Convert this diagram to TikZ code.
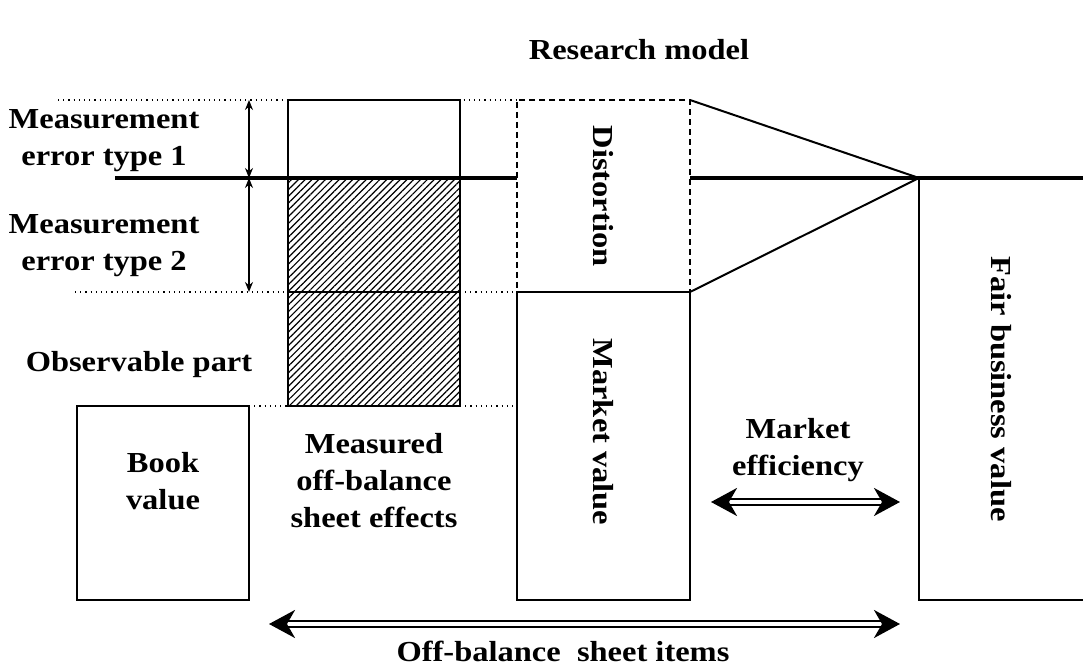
\documentclass[tikz,border=0pt]{standalone}
\usepackage{fontspec}
\setmainfont{Liberation Serif}[FakeStretch=1.12]
\usepackage{tikz}
\usetikzlibrary{arrows.meta,patterns.meta}
\tikzset{
  lbl/.style={font=\bfseries\fontsize{14.5}{18.5}\selectfont,align=center,inner sep=0pt},
  pbox/.style={draw,line width=1pt,anchor=north west,inner sep=0pt,outer sep=0pt},
  hatch/.style={pattern={Lines[angle=45,distance=2.4pt,line width=0.6pt]}},
  dashbox/.style={dash pattern=on 3pt off 2pt},
  dot/.style={dotted,line width=0.6pt},
  axis/.style={line width=1.7pt},
  edge/.style={line width=1pt},
  vr/.style={{Stealth[length=5pt,width=4pt]}-{Stealth[length=5pt,width=4pt]},line width=0.8pt},
  dbl/.style={double,double distance=1.6pt,line width=1.3pt,
    {Stealth[length=13pt,width=14pt,inset=4pt]}-{Stealth[length=13pt,width=14pt,inset=4pt]}}
}
\begin{document}
\begin{tikzpicture}[x=0.5pt,y=-0.5pt]
\useasboundingbox (0,0) rectangle (1083,668);
\node[lbl] (title) at (639,50) {Research model};
% measured effects column
\node[pbox,minimum width=86pt,minimum height=39pt] (mtop) at (288,100) {};
\node[pbox,hatch,minimum width=86pt,minimum height=57pt] (mmid) at (mtop.south west) {};
\node[pbox,hatch,minimum width=86pt,minimum height=57pt] (mlow) at (mmid.south west) {};
\node[pbox,minimum width=86pt,minimum height=97pt] (book) at (77,406) {};
% market column
\node[pbox,dashbox,minimum width=86.5pt,minimum height=96pt] (dist) at (517,100) {};
\node[pbox,minimum width=86.5pt,minimum height=154pt] (market) at (dist.south west) {};
\node[lbl,rotate=-90] (distlbl) at (dist.center) {Distortion};
\node[lbl,rotate=-90] (mvlbl) at (603,432) {Market value};
% guide lines
\coordinate (dA) at (58,100);
\coordinate (dB) at (75,292);
\draw[dot] (dA) -- (dist.north west);
\draw[dot] (dB) -- (dist.south west);
\draw[dot] (book.north east) -- (mlow.south west);
\draw[dot] (mlow.south east) -- (mlow.south east -| market.west);
% value axis
\coordinate (axL) at (115,178);
\coordinate (apex) at (919,178);
\coordinate (axR) at (1083,178);
\coordinate (fairBR) at (1083,600);
\draw[axis] (axL) -- (axL -| dist.west);
\draw[axis] (axL -| dist.east) -- (axR);
\draw[edge] (dist.north east) -- (apex) -- (market.north east);
\draw[edge] (apex) |- (fairBR);
\node[lbl,rotate=-90] (fair) at (1001,389) {Fair business value};
% measurement errors
\coordinate (eA) at (249,100);
\coordinate (eB) at (249,178);
\coordinate (eC) at (249,292);
\draw[vr] (eA) -- (eB);
\draw[vr] (eB) -- (eC);
\node[lbl] (err1) at (104,141) {Measurement\\error type 1};
\node[lbl] (err2) at (104,246) {Measurement\\error type 2};
\node[lbl] (obs) at (139,365) {Observable part};
\node[lbl] (booklbl) at (163,481) {Book\\value};
\node[lbl] (meas) at (374,481) {Measured\\off-balance\\sheet effects};
% market efficiency and items
\node[lbl] (eff) at (798,450) {Market\\efficiency};
\coordinate (effL) at (711,502);
\coordinate (effR) at (900,502);
\draw[dbl] (effL) -- (effR);
\coordinate (offL) at (269,624);
\coordinate (offR) at (900,624);
\draw[dbl] (offL) -- (offR);
\node[lbl] (off) at (563,651) {Off-balance\ \ sheet items};
\end{tikzpicture}
\end{document}
